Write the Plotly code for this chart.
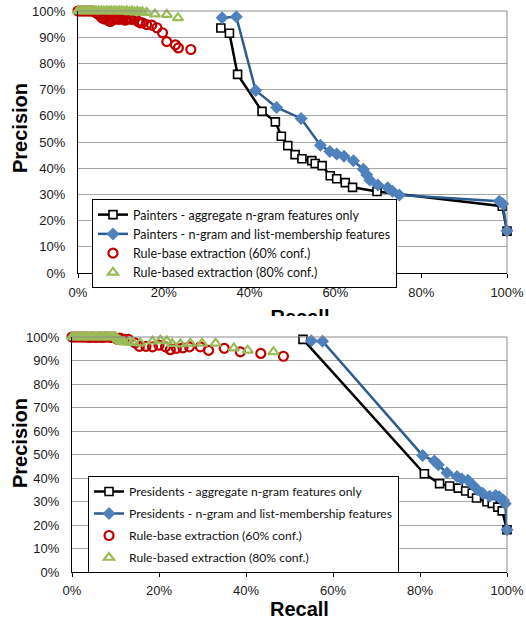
import plotly.graph_objects as go

W, H = 526, 621

# ---------------- data: Painters (top) ----------------
pa_agg_recall = [0.333, 0.353, 0.372, 0.429, 0.460, 0.474, 0.489, 0.506, 0.522, 0.545, 0.553, 0.569,
                 0.588, 0.603, 0.623, 0.640, 0.697, 0.989, 1.0]
pa_agg_prec = [0.935, 0.915, 0.758, 0.617, 0.577, 0.522, 0.486, 0.452, 0.436, 0.429, 0.418, 0.410,
               0.371, 0.360, 0.345, 0.327, 0.311, 0.255, 0.160]

pa_list_recall = [0.336, 0.369, 0.414, 0.463, 0.520, 0.565, 0.587, 0.603, 0.620, 0.642, 0.665, 0.673,
                  0.680, 0.699, 0.722, 0.733, 0.749, 0.982, 0.990, 1.0]
pa_list_prec = [0.974, 0.978, 0.697, 0.632, 0.590, 0.488, 0.464, 0.454, 0.446, 0.428, 0.396, 0.375,
                0.355, 0.336, 0.325, 0.312, 0.298, 0.274, 0.264, 0.161]

pa_rule60_recall = [0.000, 0.005, 0.010, 0.015, 0.020, 0.025, 0.030, 0.035, 0.040, 0.045, 0.050, 0.055,
                    0.060, 0.065, 0.070, 0.075, 0.080, 0.085, 0.090, 0.095, 0.100, 0.105, 0.110, 0.115,
                    0.120, 0.125, 0.133, 0.140, 0.145, 0.150, 0.160, 0.172, 0.184, 0.197, 0.207, 0.227,
                    0.234, 0.263]
pa_rule60_prec = [1.0, 1.0, 1.0, 1.0, 1.0, 1.0, 1.0, 1.0, 0.995, 0.99, 0.985, 0.975,
                  0.97, 0.975, 0.965, 0.96, 0.965, 0.97, 0.97, 0.968, 0.97, 0.97, 0.965, 0.97,
                  0.97, 0.968, 0.974, 0.96, 0.955, 0.955, 0.948, 0.946, 0.936, 0.917, 0.883, 0.871,
                  0.859, 0.853]

pa_rule80_recall = [0.000, 0.006, 0.012, 0.018, 0.024, 0.030, 0.036, 0.042, 0.048, 0.054, 0.060, 0.066,
                    0.072, 0.078, 0.084, 0.090, 0.096, 0.102, 0.108, 0.114, 0.120, 0.126, 0.132, 0.138,
                    0.144, 0.150, 0.160, 0.179, 0.207, 0.233]
pa_rule80_prec = [1.0, 1.0, 1.0, 1.0, 1.0, 1.0, 1.0, 1.0, 1.0, 1.0, 1.0, 1.0,
                  1.0, 1.0, 1.0, 1.0, 1.0, 1.0, 0.998, 1.0, 0.997, 1.0, 0.996, 0.998,
                  0.995, 0.997, 0.994, 0.988, 0.986, 0.974]

# ---------------- data: Presidents (bottom) ----------------
pr_agg_recall = [0.531, 0.810, 0.845, 0.868, 0.888, 0.905, 0.920, 0.930, 0.954, 0.966, 0.979, 0.989, 1.0]
pr_agg_prec = [0.990, 0.418, 0.376, 0.366, 0.357, 0.345, 0.335, 0.315, 0.299, 0.292, 0.276, 0.260, 0.180]

pr_list_recall = [0.550, 0.576, 0.806, 0.833, 0.842, 0.862, 0.885, 0.896, 0.910, 0.920, 0.932, 0.944,
                  0.960, 0.974, 0.982, 0.992, 0.996, 1.0]
pr_list_prec = [0.984, 0.982, 0.496, 0.472, 0.456, 0.422, 0.406, 0.396, 0.390, 0.372, 0.350, 0.335,
                0.322, 0.326, 0.320, 0.305, 0.290, 0.180]

pr_rule60_recall = [0.000, 0.005, 0.010, 0.015, 0.020, 0.025, 0.030, 0.035, 0.040, 0.045, 0.050, 0.055,
                    0.060, 0.065, 0.070, 0.075, 0.080, 0.085, 0.090, 0.095, 0.100, 0.105, 0.110, 0.115,
                    0.120, 0.130, 0.145, 0.155, 0.170, 0.185, 0.200, 0.215, 0.226, 0.240, 0.255, 0.270,
                    0.295, 0.314, 0.350, 0.387, 0.434, 0.486]
pr_rule60_prec = [1.0, 1.0, 1.0, 1.0, 1.0, 1.0, 1.0, 1.0, 0.998, 1.0, 1.0, 0.998,
                  1.0, 1.0, 0.998, 1.0, 1.0, 1.0, 0.998, 1.0, 0.995, 0.99, 0.995, 0.99,
                  0.99, 0.99, 0.975, 0.96, 0.96, 0.958, 0.965, 0.958, 0.946, 0.952, 0.954, 0.958,
                  0.958, 0.943, 0.952, 0.937, 0.930, 0.918]

pr_rule80_recall = [0.000, 0.005, 0.010, 0.015, 0.020, 0.025, 0.030, 0.035, 0.040, 0.045, 0.050, 0.055,
                    0.060, 0.065, 0.070, 0.075, 0.080, 0.085, 0.090, 0.095, 0.100, 0.105, 0.110, 0.115,
                    0.120, 0.130, 0.140, 0.157, 0.185, 0.203, 0.218, 0.230, 0.249, 0.272, 0.299, 0.330,
                    0.372, 0.404, 0.463]
pr_rule80_prec = [1.0, 1.0, 1.0, 1.0, 1.0, 1.0, 1.0, 1.0, 1.0, 1.0, 1.0, 1.0,
                  1.0, 1.0, 1.0, 1.0, 1.0, 1.0, 1.0, 1.0, 1.0, 0.99, 0.985, 0.98,
                  0.978, 0.978, 0.976, 0.974, 0.982, 0.986, 0.983, 0.972, 0.970, 0.973, 0.973, 0.973,
                  0.953, 0.943, 0.937]

y_ticks = [0, 0.1, 0.2, 0.3, 0.4, 0.5, 0.6, 0.7, 0.8, 0.9, 1.0]
x_ticks = [0, 0.2, 0.4, 0.6, 0.8, 1.0]

# ---------------- styles ----------------
BLACK = "#000000"
BLUE_LINE = "#2E5C8F"
BLUE_MK = "#4F81BD"
RED = "#C00000"
GREEN = "#9BBB59"
TICK_FONT = dict(family="Liberation Sans, Arial, sans-serif", size=13, color="#1a1a1a")
LEG_FONT = dict(family="Lato, sans-serif", size=12.5, color="#111111")
LEG_FONT2 = dict(family="Lato, sans-serif", size=12.2, color="#111111")


def px_x(p):
    return p / W


def px_y(p):
    return 1 - p / H


fig = go.Figure()


def add_set(xa, ya, legend, agg, lst, r60, r80, names, gp):
    fig.add_trace(go.Scatter(x=agg[0], y=agg[1], mode="lines+markers", name=names[0],
                             xaxis=xa, yaxis=ya, legend=legend, legendgroup=gp + "a", cliponaxis=False,
                             line=dict(color=BLACK, width=2.5),
                             marker=dict(symbol="square", size=8, color="white",
                                         line=dict(color=BLACK, width=1.6))))
    fig.add_trace(go.Scatter(x=lst[0], y=lst[1], mode="lines+markers", name=names[1],
                             xaxis=xa, yaxis=ya, legend=legend, legendgroup=gp + "b", cliponaxis=False,
                             line=dict(color=BLUE_LINE, width=2.5),
                             marker=dict(symbol="diamond", size=10, color=BLUE_MK,
                                         line=dict(width=0))))
    fig.add_trace(go.Scatter(x=r60[0], y=r60[1], mode="markers", name=names[2],
                             xaxis=xa, yaxis=ya, legend=legend, legendgroup=gp + "c", cliponaxis=False,
                             marker=dict(symbol="circle-open", size=9, color=RED,
                                         line=dict(color=RED, width=2.2))))
    fig.add_trace(go.Scatter(x=r80[0], y=r80[1], mode="markers", name=names[3],
                             xaxis=xa, yaxis=ya, legend=legend, legendgroup=gp + "d", cliponaxis=False,
                             marker=dict(symbol="triangle-up-open", size=9, color=GREEN,
                                         line=dict(color=GREEN, width=2.2))))


add_set("x", "y", "legend",
        (pa_agg_recall, pa_agg_prec), (pa_list_recall, pa_list_prec),
        (pa_rule60_recall, pa_rule60_prec), (pa_rule80_recall, pa_rule80_prec),
        ["Painters - aggregate n-gram features only",
         "Painters - n-gram and list-membership features",
         "Rule-base extraction (60% conf.)",
         "Rule-based extraction (80% conf.)"], "pa")

add_set("x2", "y2", "legend2",
        (pr_agg_recall, pr_agg_prec), (pr_list_recall, pr_list_prec),
        (pr_rule60_recall, pr_rule60_prec), (pr_rule80_recall, pr_rule80_prec),
        ["Presidents - aggregate n-gram features only",
         "Presidents - n-gram and list-membership features",
         "Rule-base extraction (60% conf.)",
         "Rule-based extraction (80% conf.)"], "pr")

# clipped "Recall" title of the upper chart (partly hidden under the lower chart)
fig.add_trace(go.Scatter(x=[300], y=[-0.115], mode="text", text=["<b>Recall</b>"],
                         textfont=dict(family="Liberation Sans, Arial, sans-serif", size=20, color="black"),
                         xaxis="x3", yaxis="y3", cliponaxis=True, showlegend=False, hoverinfo="skip"))

xcommon = dict(range=[0, 1], tickvals=x_ticks, tickformat=".0%", showgrid=False, zeroline=False,
               showline=True, linecolor="black", linewidth=1.2, ticks="outside", ticklen=4,
               tickcolor="black", tickfont=TICK_FONT, fixedrange=True, automargin=False)
ycommon = dict(range=[0, 1], tickvals=y_ticks, tickformat=".0%", showgrid=True, gridcolor="#A6A6A6",
               gridwidth=1, zeroline=False, showline=True, linecolor="black", linewidth=1.2,
               ticks="", tickfont=TICK_FONT, ticklabelstandoff=9, fixedrange=True, automargin=False)

fig.update_layout(
    width=W, height=H, margin=dict(l=0, r=0, t=0, b=0, autoexpand=False),
    paper_bgcolor="white", plot_bgcolor="white", showlegend=True,
    xaxis=dict(domain=[px_x(78), px_x(507)], anchor="y", ticklabelstandoff=3, **xcommon),
    yaxis=dict(domain=[px_y(273), px_y(11)], anchor="x", **ycommon),
    xaxis2=dict(domain=[px_x(72), px_x(507)], anchor="y2", ticklabelstandoff=2, **xcommon),
    yaxis2=dict(domain=[px_y(572), px_y(337)], anchor="x2", **ycommon),
    xaxis3=dict(domain=[0, 1], range=[0, W], visible=False, anchor="y3", fixedrange=True, automargin=False),
    yaxis3=dict(domain=[px_y(316), px_y(290)], range=[0, 1], visible=False, anchor="x3", fixedrange=True,
                automargin=False),
    legend=dict(x=px_x(92), y=px_y(199), xanchor="left", yanchor="top", bgcolor="white",
                bordercolor="black", borderwidth=1, font=LEG_FONT, tracegroupgap=0),
    legend2=dict(x=px_x(88), y=px_y(476), xanchor="left", yanchor="top", bgcolor="white",
                 bordercolor="black", borderwidth=1, font=LEG_FONT2, tracegroupgap=3),
)

shapes = []
for xr, yr in (("x domain", "y domain"), ("x2 domain", "y2 domain")):
    shapes.append(dict(type="line", xref=xr, yref=yr, x0=1, x1=1, y0=0, y1=1,
                       line=dict(color="#8C8C8C", width=1)))
    shapes.append(dict(type="line", xref=xr, yref=yr, x0=0, x1=1, y0=1, y1=1,
                       line=dict(color="#8C8C8C", width=1)))
# legend drop shadows
shapes.append(dict(type="rect", xref="paper", yref="paper", layer="above",
                   x0=px_x(96), x1=px_x(396), y0=px_y(283), y1=px_y(204),
                   fillcolor="rgba(0,0,0,0.28)", line=dict(width=0)))
shapes.append(dict(type="rect", xref="paper", yref="paper", layer="above",
                   x0=px_x(92), x1=px_x(399), y0=px_y(571), y1=px_y(481),
                   fillcolor="rgba(0,0,0,0.28)", line=dict(width=0)))
fig.update_layout(shapes=shapes)

TITLE_FONT = dict(family="Liberation Sans, Arial, sans-serif", size=20, color="black")
fig.update_layout(annotations=[
    dict(text="<b>Precision</b>", x=px_x(20), y=px_y(128), xref="paper", yref="paper",
         textangle=-90, showarrow=False, font=TITLE_FONT, xanchor="center", yanchor="middle"),
    dict(text="<b>Precision</b>", x=px_x(20), y=px_y(443), xref="paper", yref="paper",
         textangle=-90, showarrow=False, font=TITLE_FONT, xanchor="center", yanchor="middle"),
    dict(text="<b>Recall</b>", x=px_x(299), y=px_y(609), xref="paper", yref="paper",
         showarrow=False, font=TITLE_FONT, xanchor="center", yanchor="middle"),
])

fig.write_html("out.html", config={"displayModeBar": False},
               post_script="document.body.style.margin='0';document.body.style.overflow='hidden';")
